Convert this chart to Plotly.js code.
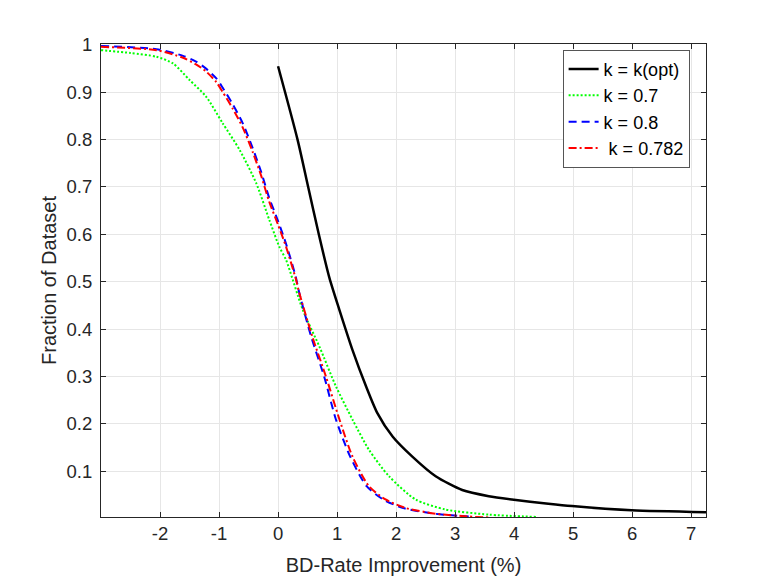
<!DOCTYPE html>
<html>
<head>
<meta charset="utf-8">
<script src="https://cdn.plot.ly/plotly-3.0.1.min.js"></script>
<style>
  html, body { margin: 0; padding: 0; background: #ffffff; }
  #chart { width: 781px; height: 581px; }
</style>
</head>
<body>
<div id="chart"></div>
<script>
// BD-rate improvement CDF curves
const kOptX = [0, 0.33, 0.51, 0.69, 0.87, 1.04, 1.26, 1.49, 1.68, 1.94, 2.27, 2.67, 3.12, 3.57, 3.96, 4.58, 4.98, 5.99, 7.25];
const kOptY = [0.955, 0.80, 0.70, 0.60, 0.508, 0.44, 0.356, 0.279, 0.223, 0.173, 0.131, 0.089, 0.060, 0.047, 0.040, 0.031, 0.026, 0.017, 0.013];

const k07X = [-3, -2.5, -2.06, -1.78, -1.5, -1.22, -0.94, -0.65, -0.37, -0.15, 0.02, 0.135, 0.42, 0.70, 0.98, 1.26, 1.54, 1.88, 2.33, 2.83, 3.57, 4.40];
const k07Y = [0.989, 0.983, 0.975, 0.961, 0.926, 0.891, 0.835, 0.778, 0.708, 0.631, 0.574, 0.546, 0.44, 0.363, 0.279, 0.209, 0.145, 0.089, 0.040, 0.019, 0.008, 0.003];

const k08X = [-3, -2.06, -1.61, -1.39, -1.22, -1.05, -0.94, -0.77, -0.60, -0.43, -0.29, -0.15, 0.0, 0.14, 0.30, 0.36, 0.56, 0.78, 0.98, 1.22, 1.50, 1.78, 2.12, 2.65, 3.23];
const k08Y = [0.998, 0.991, 0.977, 0.965, 0.950, 0.930, 0.910, 0.875, 0.835, 0.782, 0.733, 0.677, 0.628, 0.578, 0.510, 0.476, 0.384, 0.300, 0.209, 0.131, 0.068, 0.040, 0.022, 0.010, 0.004];

const k0782X = [-3, -2.06, -1.61, -1.39, -1.22, -1.05, -0.94, -0.77, -0.60, -0.43, -0.29, -0.15, 0.0, 0.14, 0.30, 0.36, 0.58, 0.81, 1.04, 1.26, 1.54, 1.82, 2.16, 2.67, 3.23, 3.57];
const k0782Y = [0.996, 0.989, 0.973, 0.959, 0.944, 0.922, 0.901, 0.866, 0.826, 0.774, 0.725, 0.669, 0.620, 0.572, 0.506, 0.476, 0.384, 0.300, 0.209, 0.131, 0.068, 0.040, 0.022, 0.010, 0.004, 0.002];

const seriesNames = ['k = k(opt)', 'k = 0.7', 'k = 0.8', ' k = 0.782'];
const xTickVals = [-2, -1, 0, 1, 2, 3, 4, 5, 6, 7];
const xTickText = ['-2', '-1', '0', '1', '2', '3', '4', '5', '6', '7'];
const yTickVals = [0.1, 0.2, 0.3, 0.4, 0.5, 0.6, 0.7, 0.8, 0.9, 1];
const yTickText = ['0.1', '0.2', '0.3', '0.4', '0.5', '0.6', '0.7', '0.8', '0.9', '1'];

const textColor = '#262626';
const font = 'Liberation Sans, Arial, Helvetica, sans-serif';

const traces = [
    { x: kOptX, y: kOptY, name: seriesNames[0], line: { color: '#000000', width: 2.5 } },
    { x: k07X, y: k07Y, name: seriesNames[1], line: { color: '#00ff00', width: 2, dash: '2px,2px' } },
    { x: k08X, y: k08Y, name: seriesNames[2], line: { color: '#0000ff', width: 2, dash: '8px,5px' } },
    { x: k0782X, y: k0782Y, name: seriesNames[3], line: { color: '#ff0000', width: 2, dash: '8px,3px,2px,3px' } }
].map(t => ({ ...t, type: 'scatter', mode: 'lines', line: { ...t.line, shape: 'spline', smoothing: 0.7 } }));

const axisCommon = {
    showline: true,
    linecolor: textColor,
    linewidth: 1,
    mirror: 'ticks',
    ticks: 'inside',
    ticklen: 5,
    tickcolor: textColor,
    showgrid: true,
    gridcolor: '#e6e6e6',
    gridwidth: 1,
    zeroline: false,
    tickfont: { family: font, size: 18.5, color: textColor }
};

const layout = {
    width: 781,
    height: 581,
    paper_bgcolor: '#ffffff',
    plot_bgcolor: '#ffffff',
    margin: { l: 101, r: 75, t: 44, b: 64 },
    font: { family: font, color: textColor },
    xaxis: {
        ...axisCommon,
        range: [-3, 7.25],
        tickvals: xTickVals,
        ticktext: xTickText,
        ticklabelstandoff: 0,
        title: { text: 'BD-Rate Improvement (%)', font: { family: font, size: 20, color: textColor }, standoff: 14 }
    },
    yaxis: {
        ...axisCommon,
        range: [0.003, 1.002],
        tickvals: yTickVals,
        ticktext: yTickText,
        ticklabelstandoff: 4,
        title: { text: 'Fraction of Dataset', font: { family: font, size: 20, color: textColor }, standoff: 4 }
    },
    showlegend: true,
    legend: {
        x: 0.763,
        y: 0.988,
        xanchor: 'left',
        yanchor: 'top',
        bgcolor: '#ffffff',
        bordercolor: '#555555',
        borderwidth: 1,
        font: { family: font, size: 18, color: '#000000' }
    }
};

Plotly.newPlot('chart', traces, layout, { displayModeBar: false, staticPlot: true });
</script>
</body>
</html>
